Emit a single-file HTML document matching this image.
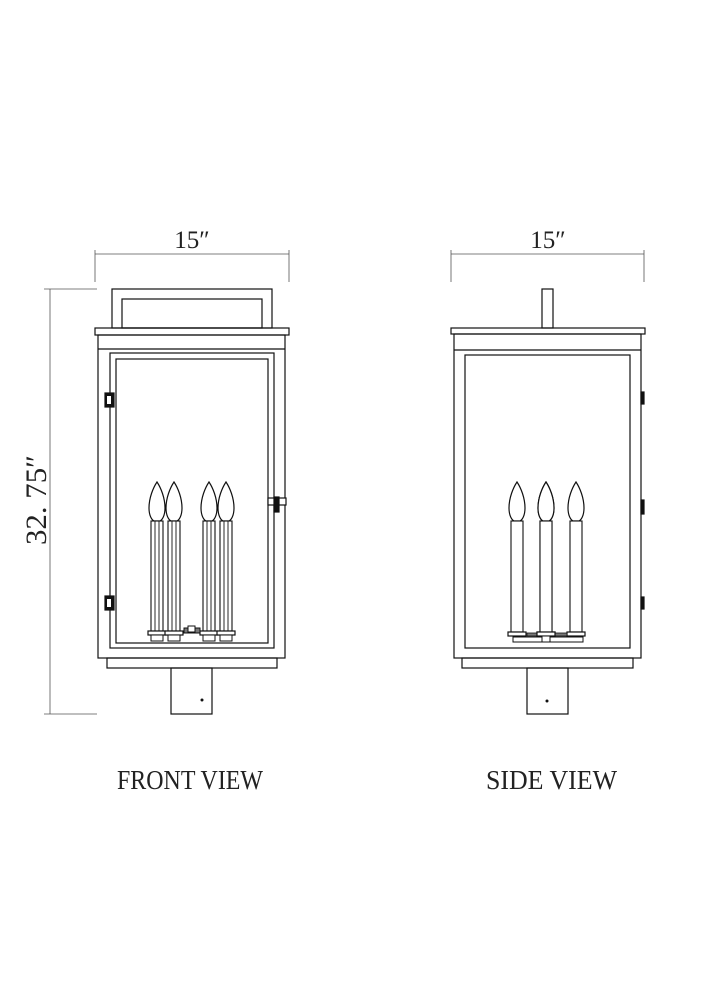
<!DOCTYPE html>
<html><head><meta charset="utf-8"><style>
html,body{margin:0;padding:0;background:#fff}
svg{display:block}
text{font-family:"Liberation Serif",serif;fill:#222}
</style></head><body>
<svg width="707" height="1000" viewBox="0 0 707 1000" xmlns="http://www.w3.org/2000/svg">
<defs>
<g id="bulbF">
<path d="M0,-38 C-4,-32 -8,-22 -8,-12 C-8,-4 -5,0 -3,1 L3,1 C5,0 8,-4 8,-12 C8,-22 4,-32 0,-38 Z" fill="#fff" stroke="#111" stroke-width="1.2"/>
<rect x="-6" y="1" width="12" height="110" fill="#fff" stroke="#111" stroke-width="1.1"/>
<line x1="-2" y1="1" x2="-2" y2="111" stroke="#111" stroke-width="0.9"/>
<line x1="2" y1="1" x2="2" y2="111" stroke="#111" stroke-width="0.9"/>
<rect x="-9" y="111" width="18" height="4" fill="#fff" stroke="#111" stroke-width="1.2"/>
<rect x="-6" y="115" width="12" height="6" fill="#fff" stroke="#111" stroke-width="1"/>
</g>
<g id="bulbS">
<path d="M0,-38 C-4,-32 -8,-22 -8,-12 C-8,-4 -5,0 -3,1 L3,1 C5,0 8,-4 8,-12 C8,-22 4,-32 0,-38 Z" fill="#fff" stroke="#111" stroke-width="1.2"/>
<rect x="-6" y="1" width="12" height="111" fill="#fff" stroke="#111" stroke-width="1.1"/>
<rect x="-9" y="112" width="18" height="4" fill="#fff" stroke="#111" stroke-width="1.2"/>
<rect x="-4" y="116" width="8" height="6" fill="#fff" stroke="#111" stroke-width="1"/>
</g>
</defs>
<g fill="none" stroke="#111" stroke-width="1.2">
<!-- dims -->
<g stroke="#555" stroke-width="0.8">
<line x1="95" y1="254" x2="289" y2="254"/><line x1="95" y1="250" x2="95" y2="282"/><line x1="289" y1="250" x2="289" y2="282"/>
<line x1="451" y1="254" x2="644" y2="254"/><line x1="451" y1="250" x2="451" y2="282"/><line x1="644" y1="250" x2="644" y2="282"/>
<line x1="50" y1="289" x2="50" y2="714"/><line x1="44" y1="289" x2="97" y2="289"/><line x1="44" y1="714" x2="97" y2="714"/>
</g>
<!-- FRONT -->
<rect x="112" y="289" width="160" height="39"/>
<rect x="122" y="299" width="140" height="29"/>
<rect x="95" y="328" width="194" height="7"/>
<rect x="98" y="335" width="187" height="323"/>
<line x1="98" y1="349" x2="285" y2="349"/>
<rect x="110" y="353" width="164" height="295"/>
<rect x="116" y="359" width="152" height="284"/>
<rect x="107" y="658" width="170" height="10"/>
<rect x="171" y="668" width="41" height="46"/>
<!-- hinges -->
<rect x="105" y="393" width="9" height="14" fill="#111"/><rect x="107" y="396" width="4" height="8" fill="#fff" stroke="none"/>
<rect x="105" y="596" width="9" height="14" fill="#111"/><rect x="107" y="599" width="4" height="8" fill="#fff" stroke="none"/>
<rect x="268" y="498" width="18" height="7" fill="#fff"/><rect x="274" y="497" width="5" height="15" fill="#111"/>
<!-- SIDE -->
<rect x="542" y="289" width="11" height="39"/>
<rect x="451" y="328" width="194" height="6"/>
<rect x="454" y="334" width="187" height="324"/>
<line x1="454" y1="350" x2="641" y2="350"/>
<rect x="465" y="355" width="165" height="293"/>
<rect x="462" y="658" width="171" height="10"/>
<rect x="527" y="668" width="41" height="46"/>
<rect x="641" y="392" width="3" height="12" fill="#111"/>
<rect x="641" y="500" width="3" height="14" fill="#111"/>
<rect x="641" y="597" width="3" height="12" fill="#111"/>
</g>
<g>
<use href="#bulbF" x="157" y="520"/><use href="#bulbF" x="174" y="520"/>
<use href="#bulbF" x="209" y="520"/><use href="#bulbF" x="226" y="520"/>
<rect x="184" y="628" width="16" height="5" fill="#777" stroke="#111"/>
<rect x="188" y="626" width="7" height="6" fill="#fff" stroke="#111"/>
<use href="#bulbS" x="517" y="520"/><use href="#bulbS" x="546" y="520"/><use href="#bulbS" x="576" y="520"/>
<rect x="527" y="633" width="40" height="3" fill="#777" stroke="#111" stroke-width="0.8"/>
<rect x="513" y="637" width="70" height="5" fill="#fff" stroke="#111"/>
<use href="#bulbS" x="546" y="520"/>
<circle cx="202" cy="700" r="1.5" fill="#111"/>
<circle cx="547" cy="701" r="1.5" fill="#111"/>
</g>
<text x="192" y="248" font-size="25" text-anchor="middle">15″</text>
<text x="548" y="248" font-size="25" text-anchor="middle">15″</text>
<text transform="translate(46,500) rotate(-90)" font-size="30" text-anchor="middle" textLength="90" lengthAdjust="spacingAndGlyphs">32. 75″</text>
<text x="117" y="789" font-size="27" textLength="146" lengthAdjust="spacingAndGlyphs">FRONT VIEW</text>
<text x="486" y="789" font-size="27" textLength="131" lengthAdjust="spacingAndGlyphs">SIDE VIEW</text>
</svg>
</body></html>
